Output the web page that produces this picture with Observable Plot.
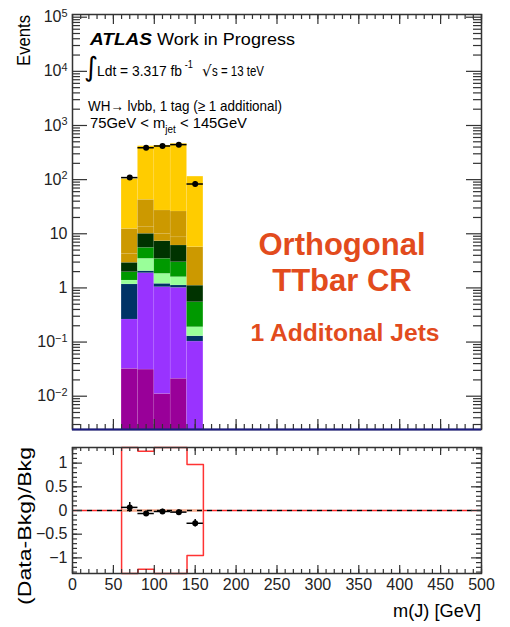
<!DOCTYPE html>
<html>
<head>
<meta charset="utf-8">
<script src="https://cdn.jsdelivr.net/npm/d3@7"></script>
<script src="https://cdn.jsdelivr.net/npm/@observablehq/plot@0.6"></script>
<style>
  body { margin: 0; background: #fff; }
  #chart { width: 510px; height: 627px; position: relative; background: #fff; }
  #chart svg { display: block; }
</style>
</head>
<body>
<div id="chart"></div>
<script>
// m(J) bins [GeV]
const binLow  = [60, 80, 100, 120, 140];
const binHigh = [80, 100, 120, 140, 160];

// Background yields per bin, stacked bottom to top
const diboson  = [0.032, 0.031, 0.011, 0.021, 0];
const multijet = [0.229, 1.84, 1.02, 0.98, 0.102];
const zjets    = [0.90, 0.17, 0.16, 0.11, 0.026];
const wl       = [0.21, 1.41, 0.63, 0.47, 0.06];
const wbc      = [0.58, 2.05, 1.63, 1.40, 0.356];
const wbb      = [0.96, 4.5, 3.85, 3.09, 0.556];
const stopT    = [1.36, 3.2, 2.7, 2.53, 0];
const stopWt   = [8.0, 29.2, 16.9, 17.2, 4.55];
const ttbar    = [90, 372, 400, 433, 108];

// Observed events per bin
const dataCounts = [109, 388, 418, 443, 83];

// Relative systematic envelope drawn in the ratio pad
const bandUp   = [1.4, 1.25, 1.4, 1.4, 0.97];
const bandDown = [-1.4, -1.24, -1.4, -1.4, -0.95];

// Axis tick values and labels
const yDecades    = [1e-2, 1e-1, 1, 10, 1e2, 1e3, 1e4, 1e5];
const yDecadeText = ["10^−2", "10^−1", "1", "10", "10^2", "10^3", "10^4", "10^5"];
const xTicks      = [0, 50, 100, 150, 200, 250, 300, 350, 400, 450, 500];
const ratioTicks  = [-1, -0.5, 0, 0.5, 1];
const ratioText   = ["−1", "−0.5", "0", "0.5", "1"];

const processes = [
  {name: "diboson",  color: "#990099", values: diboson},
  {name: "multijet", color: "#9933ff", values: multijet},
  {name: "Z+jets",   color: "#003366", values: zjets},
  {name: "W+l",      color: "#99ff99", values: wl},
  {name: "W+bc",     color: "#009900", values: wbc},
  {name: "W+bb",     color: "#003300", values: wbb},
  {name: "stop t",   color: "#cc9900", values: stopT},
  {name: "stop Wt",  color: "#cc9900", values: stopWt},
  {name: "ttbar",    color: "#ffcc00", values: ttbar}
];

const Y_MIN = Math.pow(10, -2.615);
const Y_MAX = Math.pow(10, 5.05);
const R_MAX = 1.33;

// Stack the backgrounds
const rows = [];
const bkgTotal = [];
binLow.forEach((lo, i) => {
  let cum = 0;
  for (const p of processes) {
    const v = p.values[i];
    rows.push({lo, hi: binHigh[i], y1: cum > 0 ? cum : Y_MIN, y2: cum + v > 0 ? cum + v : Y_MIN, fill: p.color});
    cum += v;
  }
  bkgTotal.push(cum);
});

const points = binLow.map((lo, i) => {
  const n = dataCounts[i], b = bkgTotal[i], e = Math.sqrt(n);
  return {
    lo, hi: binHigh[i], c: (lo + binHigh[i]) / 2,
    n, nLo: n - e, nHi: n + e,
    r: (n - b) / b, rLo: (n - e - b) / b, rHi: (n + e - b) / b
  };
});

// Step outline of the envelope, starting and ending on zero
function envelope(vals) {
  const pts = [{x: binLow[0], y: 0}];
  vals.forEach((v, i) => { pts.push({x: binLow[i], y: v}, {x: binHigh[i], y: v}); });
  pts.push({x: binHigh[binHigh.length - 1], y: 0});
  return pts;
}

// Minor tick positions
const yMinor = [];
for (let e = -3; e <= 5; e++) for (let k = 2; k <= 9; k++) {
  const v = k * Math.pow(10, e);
  if (v > Y_MIN && v < Y_MAX) yMinor.push(v);
}
const xMinor = d3.range(0, 501, 10);
const rMinor = d3.range(-13, 14).map(d => d / 10);

const W = 510, ML = 72, MR = 29;
const FW = W - ML - MR;
const TOP_H = 435, TOP_MT = 14, TOP_MB = 6, TOP_FH = TOP_H - TOP_MT - TOP_MB;
const BOT_H = 192, BOT_MT = 12, BOT_MB = 54, BOT_FH = BOT_H - BOT_MT - BOT_MB;
const axisColor = "#333";
const font = "'Liberation Sans', Arial, sans-serif";
const tickFont = "'Liberation Sans Narrow', 'Liberation Sans', Arial, sans-serif";

function frameTicksY(major, minor, majLen, minLen) {
  const o = {stroke: axisColor, strokeWidth: 1.2};
  return [
    Plot.tickY(major, {...o, insetRight: FW - majLen}),
    Plot.tickY(minor, {...o, insetRight: FW - minLen}),
    Plot.tickY(major, {...o, insetLeft: FW - majLen}),
    Plot.tickY(minor, {...o, insetLeft: FW - minLen})
  ];
}
function frameTicksX(major, minor, fh, majLen, minLen) {
  const o = {stroke: axisColor, strokeWidth: 1.2};
  return [
    Plot.tickX(major, {...o, insetTop: fh - majLen}),
    Plot.tickX(minor, {...o, insetTop: fh - minLen}),
    Plot.tickX(major, {...o, insetBottom: fh - majLen}),
    Plot.tickX(minor, {...o, insetBottom: fh - minLen})
  ];
}

const topPlot = Plot.plot({
  width: W, height: TOP_H,
  marginLeft: ML, marginRight: MR, marginTop: TOP_MT, marginBottom: TOP_MB,
  style: {fontFamily: tickFont, fontSize: "16px", color: "#222", background: "white", overflow: "visible"},
  x: {domain: [0, 500], axis: null},
  y: {type: "log", domain: [Y_MIN, Y_MAX]},
  marks: [
    Plot.rectY(rows, {x1: "lo", x2: "hi", y1: "y1", y2: "y2", fill: "fill", stroke: "white", strokeOpacity: 0.12, strokeWidth: 0.6}),
    Plot.ruleY(points, {x1: "lo", x2: "hi", y: "n", stroke: "black", strokeWidth: 1.5}),
    Plot.ruleX(points, {x: "c", y1: "nLo", y2: "nHi", stroke: "black", strokeWidth: 1.5}),
    Plot.dot(points, {x: "c", y: "n", r: 3, fill: "black"}),
    Plot.frame({stroke: axisColor, strokeWidth: 1.5}),
    ...frameTicksY(yDecades, yMinor, 15, 8),
    ...frameTicksX(xTicks, xMinor, TOP_FH, 10, 5),
    Plot.ruleY([Y_MIN], {stroke: "#1a1a80", strokeWidth: 2}),
    Plot.axisY({ticks: yDecades, tickSize: 0, tickPadding: 5, label: null, fontSize: 16,
      tickFormat: d => yDecadeText[yDecades.indexOf(d)]})
  ]
});

const botPlot = Plot.plot({
  width: W, height: BOT_H,
  marginLeft: ML, marginRight: MR, marginTop: BOT_MT, marginBottom: BOT_MB,
  style: {fontFamily: tickFont, fontSize: "16px", color: "#222", background: "white", overflow: "visible"},
  x: {domain: [0, 500]},
  y: {domain: [-R_MAX, R_MAX], clamp: true},
  marks: [
    Plot.line(envelope(bandUp), {x: "x", y: "y", stroke: "#ff3333", strokeWidth: 1.5}),
    Plot.line(envelope(bandDown), {x: "x", y: "y", stroke: "#ff3333", strokeWidth: 1.5}),
    Plot.ruleY([0], {stroke: "#ff2a2a", strokeWidth: 1.5, strokeDasharray: "5,5"}),
    Plot.ruleY([0], {x1: binLow[0], x2: binHigh[binHigh.length - 1], stroke: "#f6b08c", strokeWidth: 2}),
    Plot.ruleY([0], {stroke: "black", strokeWidth: 1.5, strokeDasharray: "5,5", strokeDashoffset: 5}),
    Plot.ruleY(points, {x1: "lo", x2: "hi", y: "r", stroke: "black", strokeWidth: 1.5}),
    Plot.ruleX(points, {x: "c", y1: "rLo", y2: "rHi", stroke: "black", strokeWidth: 1.5}),
    Plot.dot(points, {x: "c", y: "r", r: 3, fill: "black"}),
    Plot.frame({stroke: axisColor, strokeWidth: 1.5}),
    ...frameTicksY(ratioTicks, rMinor, 10, 5),
    ...frameTicksX(xTicks, xMinor, BOT_FH, 8, 4),
    Plot.axisX({ticks: xTicks, tickSize: 0, tickPadding: 5, label: null, fontSize: 16}),
    Plot.axisY({ticks: ratioTicks, tickSize: 0, tickPadding: 5, label: null, fontSize: 16,
      tickFormat: d => ratioText[ratioTicks.indexOf(d)]})
  ]
});

const chart = document.getElementById("chart");
chart.appendChild(topPlot);
chart.appendChild(botPlot);

// Superscript exponents on the log axis labels
d3.select(topPlot).selectAll('g[aria-label="y-axis tick label"] text').each(function () {
  const parts = this.textContent.split("^");
  if (parts.length === 2) {
    const t = d3.select(this);
    t.text(null);
    t.append("tspan").text(parts[0]);
    t.append("tspan").attr("dy", "-0.5em").attr("font-size", "68%").text(parts[1]);
  }
});

// Annotations in the upper pad
const ts = d3.select(topPlot);
function label(svg, x, y, text, opts = {}) {
  const t = svg.append("text")
    .attr("x", x).attr("y", y)
    .attr("font-family", opts.family || font)
    .attr("font-size", opts.size || 15)
    .attr("fill", opts.fill || "black")
    .attr("text-anchor", opts.anchor || "start")
    .text(text);
  if (opts.weight) t.attr("font-weight", opts.weight);
  if (opts.style) t.attr("font-style", opts.style);
  if (opts.length) t.attr("textLength", opts.length).attr("lengthAdjust", "spacingAndGlyphs");
  if (opts.transform) t.attr("transform", opts.transform);
  return t;
}

label(ts, 90, 45, "ATLAS", {size: 17, weight: "bold", style: "italic", length: 62});
label(ts, 157, 45, "Work in Progress", {size: 17, length: 138});
label(ts, 84, 76, "∫", {size: 27, family: "'DejaVu Sans', sans-serif"});
const lumi = label(ts, 97, 76, "", {size: 15, length: 96});
lumi.append("tspan").text("Ldt = 3.317 fb");
lumi.append("tspan").attr("font-size", 10).attr("dx", 3).attr("dy", -8).text("-1");
label(ts, 202, 76, "√", {size: 15, family: "'DejaVu Sans', sans-serif"});
label(ts, 212, 76, "s = 13 teV", {size: 14.5, length: 52});
label(ts, 88, 111, "WH→ lvbb, 1 tag (≥ 1 additional)", {size: 15, length: 194});
const mjet = label(ts, 90, 128, "", {size: 15, length: 157});
mjet.append("tspan").text("75GeV < m");
mjet.append("tspan").attr("font-size", 10).attr("dy", 5).text("jet");
mjet.append("tspan").attr("dy", -5).text(" < 145GeV");

const orange = "#e24b1d";
label(ts, 342, 255, "Orthogonal", {size: 31, weight: "bold", fill: orange, anchor: "middle"});
label(ts, 342, 291, "TTbar CR", {size: 31, weight: "bold", fill: orange, anchor: "middle"});
label(ts, 345, 341, "1 Additonal Jets", {size: 24.6, weight: "bold", fill: orange, anchor: "middle"});

label(ts, 0, 0, "Events", {size: 18, anchor: "end", length: 51, transform: "translate(30,15) rotate(-90)"});

// Axis titles of the ratio pad
const bs = d3.select(botPlot);
label(bs, 0, 0, "(Data-Bkg)/Bkg", {size: 18, anchor: "end", length: 158, transform: "translate(31,12) rotate(-90)"});
label(bs, 481, 182, "m(J) [GeV]", {size: 18, anchor: "end", length: 88});
</script>
</body>
</html>
